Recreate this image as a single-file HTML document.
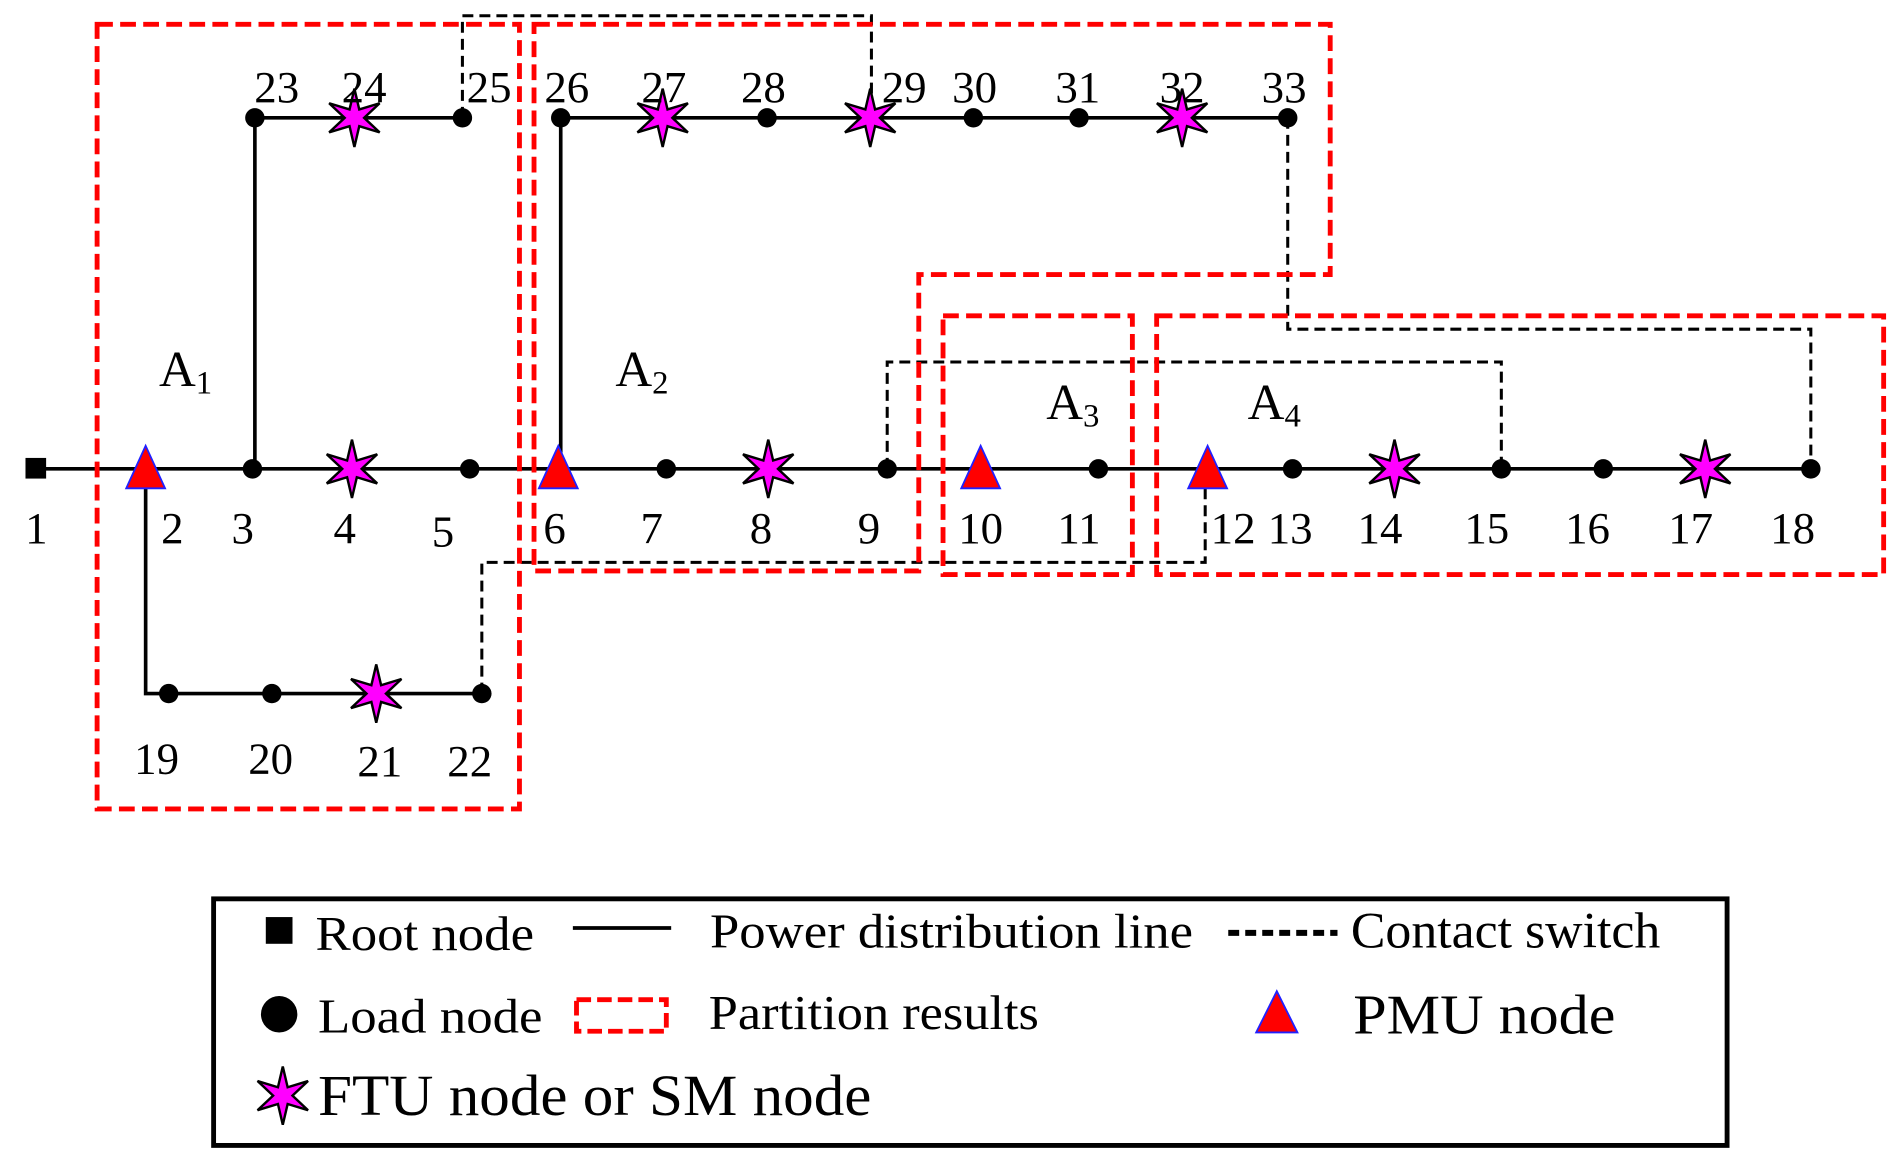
<!DOCTYPE html>
<html><head><meta charset="utf-8"><style>html,body{margin:0;padding:0;background:#fff;}svg{display:block}</style></head>
<body>
<svg width="1897" height="1160" viewBox="0 0 1563 955" preserveAspectRatio="none" xmlns="http://www.w3.org/2000/svg" font-family="'Liberation Serif', serif">
<defs>
<polygon id="st" points="0,-24 4,-6.9 20.8,-12 8,0 20.8,12 4,6.9 0,24 -4,6.9 -20.8,12 -8,0 -20.8,-12 -4,-6.9" fill="#ff00ff" stroke="#000" stroke-width="2"/>
<polygon id="tr" points="0,-19 -16,16 16,16" fill="#ff0000" stroke="#2020ff" stroke-width="1.5"/>
</defs>
<g fill="none" stroke="#000" stroke-width="3">
<polyline points="30,386 1492,386"/>
<polyline points="210,386 210,97 381,97"/>
<polyline points="462,386 462,97 1061,97"/>
<polyline points="120,386 120,571 397,571"/>
</g>
<g fill="none" stroke="#000" stroke-width="2.5" stroke-dasharray="9,5">
<polyline points="381,97 381,13 718,13 718,97"/>
<polyline points="397,571 397,463 993,463 993,386"/>
<polyline points="731,386 731,298 1237,298 1237,386"/>
<polyline points="1061,97 1061,271 1492,271 1492,386"/>
</g>
<g fill="none" stroke="#ff0000" stroke-width="4" stroke-dasharray="13,6">
<rect x="80" y="20" width="348" height="646"/>
<polygon points="440,20 1096,20 1096,226 757,226 757,470 440,470"/>
<rect x="777" y="260" width="156" height="213"/>
<rect x="953" y="260" width="599" height="213"/>
</g>
<rect x="21" y="377" width="17" height="17" fill="#000"/>
<g fill="#000">
<circle cx="208" cy="386" r="8"/><circle cx="387" cy="386" r="8"/><circle cx="549" cy="386" r="8"/><circle cx="731" cy="386" r="8"/><circle cx="905" cy="386" r="8"/><circle cx="1065" cy="386" r="8"/><circle cx="1237" cy="386" r="8"/><circle cx="1321" cy="386" r="8"/><circle cx="1492" cy="386" r="8"/>
<circle cx="210" cy="97" r="8"/><circle cx="381" cy="97" r="8"/><circle cx="462" cy="97" r="8"/><circle cx="632" cy="97" r="8"/><circle cx="802" cy="97" r="8"/><circle cx="889" cy="97" r="8"/><circle cx="1061" cy="97" r="8"/>
<circle cx="139" cy="571" r="8"/><circle cx="224" cy="571" r="8"/><circle cx="397" cy="571" r="8"/>
</g>
<use href="#st" x="290" y="386"/><use href="#st" x="633" y="386"/><use href="#st" x="1149" y="386"/><use href="#st" x="1405" y="386"/>
<use href="#st" x="292" y="97"/><use href="#st" x="546" y="97"/><use href="#st" x="717" y="97"/><use href="#st" x="974" y="97"/>
<use href="#st" x="310" y="571"/>
<use href="#tr" x="120" y="386"/><use href="#tr" x="460" y="386"/><use href="#tr" x="808" y="386"/><use href="#tr" x="995" y="386"/>
<g font-size="37" text-anchor="middle" fill="#000">
<text x="30" y="447">1</text><text x="142" y="447">2</text><text x="200" y="447">3</text><text x="284" y="447">4</text><text x="365" y="450">5</text><text x="457" y="447">6</text><text x="537" y="447">7</text><text x="627" y="447">8</text><text x="716" y="447">9</text><text x="808" y="447">10</text><text x="889" y="447">11</text><text x="1016" y="447">12</text><text x="1063" y="447">13</text><text x="1137" y="447">14</text><text x="1225" y="447">15</text><text x="1308" y="447">16</text><text x="1393" y="447">17</text><text x="1477" y="447">18</text>
<text x="228" y="84">23</text><text x="300" y="84">24</text><text x="403" y="84">25</text><text x="467" y="84">26</text><text x="547" y="84">27</text><text x="629" y="84">28</text><text x="745" y="84">29</text><text x="803" y="84">30</text><text x="888" y="84">31</text><text x="974" y="84">32</text><text x="1058" y="84">33</text>
<text x="129" y="637">19</text><text x="223" y="637">20</text><text x="313" y="639">21</text><text x="387" y="639">22</text>
</g>
<g font-size="42" fill="#000">
<text x="131" y="318">A<tspan font-size="27" dy="6">1</tspan></text>
<text x="507" y="318">A<tspan font-size="27" dy="6">2</tspan></text>
<text x="862" y="345">A<tspan font-size="27" dy="6">3</tspan></text>
<text x="1028" y="345">A<tspan font-size="27" dy="6">4</tspan></text>
</g>
<rect x="176" y="740" width="1247" height="203" fill="none" stroke="#000" stroke-width="4"/>
<rect x="219" y="755" width="22" height="22" fill="#000"/>
<line x1="472" y1="764" x2="553" y2="764" stroke="#000" stroke-width="3"/>
<line x1="1012" y1="768" x2="1102" y2="768" stroke="#000" stroke-width="5" stroke-dasharray="9,5"/>
<circle cx="230" cy="835" r="15" fill="#000"/>
<rect x="475" y="823" width="74" height="26" fill="none" stroke="#ff0000" stroke-width="4" stroke-dasharray="12,5"/>
<polygon points="1052,816 1035,850 1069,850" fill="#ff0000" stroke="#2020ff" stroke-width="1.5"/>
<use href="#st" x="233" y="902"/>
<g fill="#000" lengthAdjust="spacingAndGlyphs">
<text x="260" y="782" font-size="40" textLength="180" lengthAdjust="spacingAndGlyphs">Root node</text>
<text x="585" y="780" font-size="40" textLength="398" lengthAdjust="spacingAndGlyphs">Power distribution line</text>
<text x="1113" y="780" font-size="42" textLength="255" lengthAdjust="spacingAndGlyphs">Contact switch</text>
<text x="262" y="850" font-size="40" textLength="185" lengthAdjust="spacingAndGlyphs">Load node</text>
<text x="584" y="847" font-size="40" textLength="272" lengthAdjust="spacingAndGlyphs">Partition results</text>
<text x="1115" y="851" font-size="46" textLength="216" lengthAdjust="spacingAndGlyphs">PMU node</text>
<text x="262" y="918" font-size="48" textLength="456" lengthAdjust="spacingAndGlyphs">FTU node or SM node</text>
</g>
</svg>
</body></html>
